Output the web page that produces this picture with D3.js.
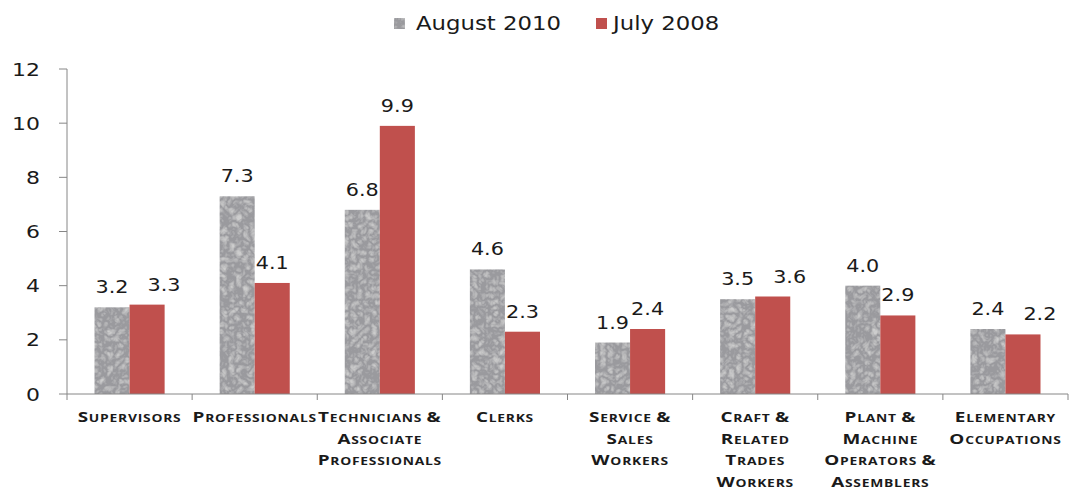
<!DOCTYPE html>
<html><head><meta charset="utf-8">
<script src="https://cdn.jsdelivr.net/npm/d3@7"></script>
<style>body{margin:0;background:#fff}svg{display:block}</style>
</head><body>
<svg id="c" width="1079" height="487"></svg>
<script>
const categories = [
  ["Supervisors"],
  ["Professionals"],
  ["Technicians &","Associate","Professionals"],
  ["Clerks"],
  ["Service &","Sales","Workers"],
  ["Craft &","Related","Trades","Workers"],
  ["Plant &","Machine","Operators &","Assemblers"],
  ["Elementary","Occupations"]
];
const seriesNames = ["August 2010","July 2008"];
const aug2010 = [3.2, 7.3, 6.8, 4.6, 1.9, 3.5, 4.0, 2.4];
const jul2008 = [3.3, 4.1, 9.9, 2.3, 2.4, 3.6, 2.9, 2.2];
const yTicks = [0, 2, 4, 6, 8, 10, 12];

const SX = 1.22; // horizontal text stretch seen in the reference
const svg = d3.select("#c");
const defs = svg.append("defs");
const f = defs.append("filter").attr("id","granite").attr("x",0).attr("y",0).attr("width",1).attr("height",1);
f.append("feTurbulence").attr("type","turbulence").attr("baseFrequency","0.14").attr("numOctaves",2).attr("seed",5).attr("result","t");
f.append("feColorMatrix").attr("in","t").attr("type","matrix")
  .attr("values","0 0 0 0 0.32  0 0 0 0 0.32  0 0 0 0 0.34  0 0 0 -1.8 1.25").attr("result","dark");
f.append("feFlood").attr("flood-color","#cdcdcd").attr("result","bg");
f.append("feComposite").attr("in","dark").attr("in2","bg").attr("operator","over").attr("result","m");
f.append("feComposite").attr("in","m").attr("in2","SourceGraphic").attr("operator","in");

const x0 = d3.scaleBand().domain(d3.range(categories.length)).range([67, 1068]).padding(0);
const x1 = d3.scaleBand().domain(seriesNames).range([27.5, x0.bandwidth() - 27.5]);
const y = d3.scaleLinear().domain([0, 12]).range([394, 69]);

function stext(g, x, yy, txt, opts) {
  const gg = g.append("g").attr("transform", `translate(${x},${yy}) scale(${opts.sx || SX},1)`);
  const t = gg.append("text").attr("x",0).attr("y",0)
    .attr("text-anchor", opts.anchor || "middle")
    .attr("font-family", opts.family || "DejaVu Sans")
    .attr("font-size", opts.size).attr("fill", opts.fill || "#1a1a1a")
    .text(txt);
  if (opts.weight) t.attr("font-weight", opts.weight);
  return {g: gg, t: t};
}

// y axis
const ya = svg.append("g");
ya.append("line").attr("x1",67).attr("x2",67).attr("y1",y(12)).attr("y2",y(0)).attr("stroke","#868686");
yTicks.forEach(v => {
  ya.append("line").attr("x1",59).attr("x2",67).attr("y1",y(v)).attr("y2",y(v)).attr("stroke","#868686");
  stext(ya, 40, y(v) + 6.5, d3.format("d")(v), {anchor:"end", size:18});
});

// bars
const data = [aug2010, jul2008];
const bars = svg.append("g");
seriesNames.forEach((s, si) => {
  data[si].forEach((v, i) => {
    bars.append("rect")
      .attr("x", x0(i) + x1(s)).attr("width", x1.bandwidth())
      .attr("y", y(v)).attr("height", y(0) - y(v))
      .attr("fill", si === 0 ? "#b0b0b0" : "#c0504d")
      .attr("filter", si === 0 ? "url(#granite)" : null);
  });
});

// data labels, nudging the second label right when it would crowd the first
const labels = svg.append("g");
categories.forEach((c, i) => {
  const pos = seriesNames.map((s, si) => {
    const v = data[si][i];
    const lab = stext(labels, 0, 0, d3.format(".1f")(v), {size:17});
    const w = lab.t.node().getComputedTextLength() * SX;
    return {lab, v, cx: x0(i) + x1(s) + x1.bandwidth()/2, by: y(v) - 14, w};
  });
  const a = pos[0], b = pos[1];
  if (Math.abs(a.by - b.by) < 12) {
    const gap = (b.cx - b.w/2) - (a.cx + a.w/2);
    if (gap < 19) b.cx += 19 - gap;
  }
  pos.forEach(p => p.lab.g.attr("transform", `translate(${p.cx},${p.by}) scale(${SX},1)`));
});

// x axis
const xa = svg.append("g");
xa.append("line").attr("x1",67).attr("x2",1068).attr("y1",y(0)).attr("y2",y(0)).attr("stroke","#868686");
d3.range(categories.length + 1).forEach(i => {
  const xx = i < categories.length ? x0(i) : x0(i-1) + x0.bandwidth();
  xa.append("line").attr("x1",xx).attr("x2",xx).attr("y1",y(0)).attr("y2",y(0)+6).attr("stroke","#868686");
});
categories.forEach((lines, i) => {
  const cx = x0(i) + x0.bandwidth()/2;
  lines.forEach((ln, li) => {
    const gg = xa.append("g").attr("transform", `translate(${cx},${422 + li*21.7}) scale(1.26,1)`);
    const t = gg.append("text").attr("text-anchor","middle").attr("font-family","Open Sans")
      .attr("font-weight","bold").attr("fill","#1a1a1a").attr("letter-spacing","0.6");
    ln.split(" ").forEach((w, wi) => {
      if (wi > 0) t.append("tspan").attr("font-size",11).text(" ");
      if (w === "&") { t.append("tspan").attr("font-size",15).text("&"); return; }
      t.append("tspan").attr("font-size",15).text(w[0].toUpperCase());
      t.append("tspan").attr("font-size",11).text(w.slice(1).toUpperCase());
    });
  });
});

// legend
const lg = svg.append("g");
lg.append("rect").attr("x",394).attr("y",18).attr("width",11).attr("height",11).attr("fill","#b0b0b0").attr("filter","url(#granite)");
stext(lg, 416, 30, seriesNames[0], {anchor:"start", size:19, sx:1.2});
lg.append("rect").attr("x",596).attr("y",18).attr("width",11).attr("height",11).attr("fill","#c0504d");
stext(lg, 613, 30, seriesNames[1], {anchor:"start", size:19, sx:1.2});
</script>
</body></html>
